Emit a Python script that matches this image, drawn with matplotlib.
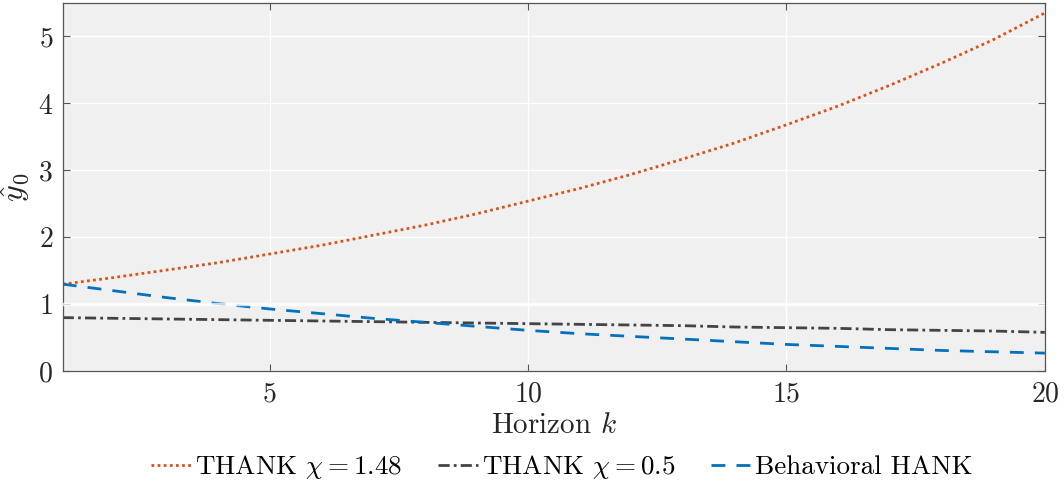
import matplotlib
matplotlib.use("Agg")
import matplotlib.pyplot as plt

plt.rcParams["font.family"] = "serif"
plt.rcParams["font.serif"] = ["cmr10"]
plt.rcParams["mathtext.fontset"] = "cm"
plt.rcParams["axes.unicode_minus"] = False
plt.rcParams["axes.formatter.use_mathtext"] = True

horizon = list(range(1, 21))
thank_148 = [1.30, 1.40, 1.51, 1.62, 1.75, 1.88, 2.03, 2.18, 2.35, 2.54,
             2.73, 2.94, 3.17, 3.41, 3.68, 3.96, 4.27, 4.60, 4.95, 5.35]
thank_05 = [0.80, 0.79, 0.78, 0.77, 0.76, 0.75, 0.74, 0.73, 0.72, 0.71,
            0.70, 0.69, 0.68, 0.66, 0.65, 0.64, 0.62, 0.61, 0.60, 0.58]
behav_hank = [1.30, 1.20, 1.10, 1.01, 0.93, 0.86, 0.79, 0.73, 0.67, 0.61,
              0.56, 0.52, 0.48, 0.44, 0.40, 0.37, 0.34, 0.31, 0.29, 0.27]
x_ticks = [5, 10, 15, 20]
y_ticks = [0, 1, 2, 3, 4, 5]

fig = plt.figure(figsize=(10.64, 4.91), dpi=100)
ax = fig.add_axes([0.059, 0.244, 0.923, 0.750])
ax.set_facecolor("#f0f0f0")

ax.plot(horizon, thank_148, color="#D95319", linewidth=2.0,
        dashes=(1, 1.2), label=r"THANK $\chi = 1.48$")
ax.plot(horizon, thank_05, color="#444444", linewidth=2.0,
        dashes=(4, 1.5, 1, 1.5), label=r"THANK $\chi = 0.5$")
ax.plot(horizon, behav_hank, color="#0072BD", linewidth=2.0,
        dashes=(5, 4), label="Behavioral HANK")

# white reference line at y = 1 drawn above the series
ax.axhline(1, color="white", linewidth=2.5, alpha=0.75, zorder=5)

ax.set_xlim(1, 20)
ax.set_ylim(0, 5.5)
ax.set_xticks(x_ticks)
ax.set_yticks(y_ticks)
ax.grid(True, color="white", linewidth=1.0)
ax.set_axisbelow(True)
ax.tick_params(direction="in", length=5, width=0.8, colors="#555555",
               labelcolor="#262626", labelsize=20, top=True, right=True, pad=7)
for spine in ax.spines.values():
    spine.set_color("#555555")
    spine.set_linewidth(0.9)

ax.set_xlabel(r"Horizon $k$", fontsize=21, color="#262626", labelpad=4)
ax.set_ylabel(r"$\hat{y}_0$", fontsize=23, color="#262626", labelpad=4)

fig.legend(loc="center", bbox_to_anchor=(0.528, 0.048), ncol=3, frameon=False,
           fontsize=19.5, handlelength=1.5, handletextpad=0.15, columnspacing=1.3)

fig.savefig("out.png", dpi=100)
